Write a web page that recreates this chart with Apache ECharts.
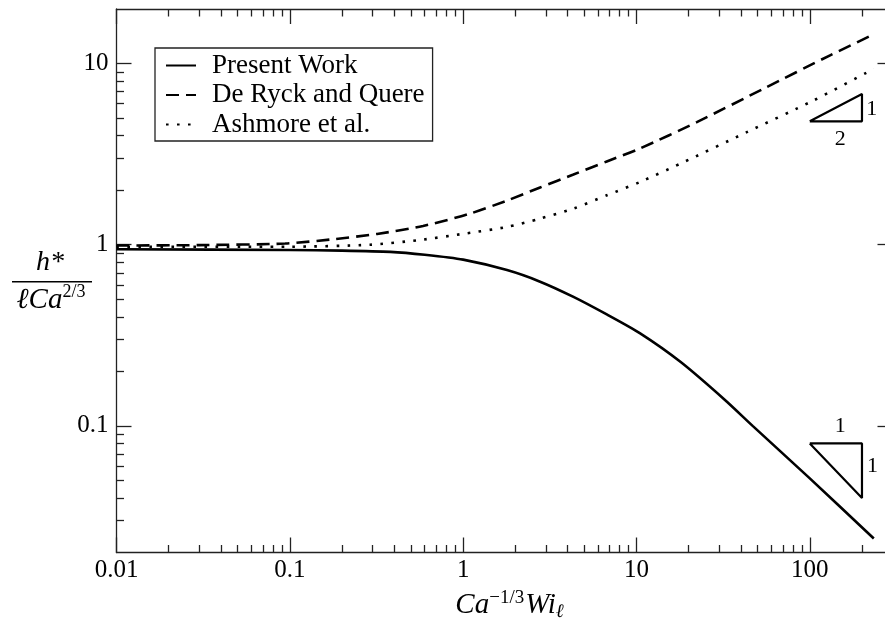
<!DOCTYPE html>
<html><head><meta charset="utf-8">
<script src="https://cdn.jsdelivr.net/npm/echarts@6/dist/echarts.min.js"></script>
<style>html,body{margin:0;padding:0;background:#fff}#c{width:885px;height:625px}</style>
</head><body><div id="c"></div>
<script>
// ---- data ----
const presentX = [0.01, 0.1, 0.2, 0.38, 0.6, 1.0, 1.79, 2.78, 4.33, 6.74, 10.5, 18, 32.4, 46.8, 100, 234];
const presentY = [0.944, 0.935, 0.928, 0.913, 0.88, 0.827, 0.724, 0.625, 0.515, 0.412, 0.324, 0.225, 0.139, 0.100, 0.0513, 0.0239];
const deRyckX = [0.01, 0.03, 0.094, 0.178, 0.319, 0.587, 1.066, 1.785, 2.78, 4.33, 6.74, 10.5, 22.3, 54.0, 130.9, 234];
const deRyckY = [0.99, 0.995, 1.015, 1.072, 1.147, 1.269, 1.472, 1.75, 2.07, 2.44, 2.88, 3.40, 4.75, 7.26, 11.1, 14.5];
const ashmoreX = [0.01, 0.1, 0.29, 0.55, 1.03, 1.785, 2.78, 4.33, 6.74, 10.5, 17.9, 43.3, 104.9, 234];
const ashmoreY = [0.975, 0.975, 1.0, 1.059, 1.153, 1.253, 1.394, 1.583, 1.874, 2.22, 2.80, 4.18, 6.25, 9.35];
const seriesNames = ['Present Work', 'De Ryck and Quere', 'Ashmore et al.'];
const slopeHalfTri = [[100, 4.8], [200, 6.79], [200, 4.8], [100, 4.8]];
const slopeOneTri = [[100, 0.08], [200, 0.08], [200, 0.04], [100, 0.08]];
const slopeLabels = [[228, 5.63, '1'], [150, 3.8, '2'], [150, 0.099, '1'], [230, 0.0597, '1']];
const xMajor = [0.01, 0.1, 1, 10, 100];
const xMinor = [0.02,0.03,0.04,0.05,0.06,0.07,0.08,0.09,0.2,0.3,0.4,0.5,0.6,0.7,0.8,0.9,2,3,4,5,6,7,8,9,20,30,40,50,60,70,80,90,200];
const yMajor = [0.1, 1, 10];
const yMinor = [0.03,0.04,0.05,0.06,0.07,0.08,0.09,0.2,0.3,0.4,0.5,0.6,0.7,0.8,0.9,2,3,4,5,6,7,8,9];
const xMin = 0.01, xMax = 300, yMin = 0.02, yMax = 20;

const FONT = 'Liberation Serif';
const AX = '#222';
const zip = (a, b) => a.map((v, i) => [v, b[i]]);

function xAxis(pos, ticks, len, showLabel, showLine) {
  return {
    type: 'log', logBase: 10, min: xMin, max: xMax, position: pos,
    axisLine: { show: showLine, lineStyle: { color: AX, width: 1.3 } },
    axisTick: { show: true, inside: true, length: len, customValues: ticks, lineStyle: { color: AX, width: 1.3 } },
    minorTick: { show: false }, splitLine: { show: false },
    axisLabel: { show: showLabel, customValues: ticks, formatter: v => String(+v.toPrecision(6)),
      color: '#000', fontFamily: FONT, fontSize: 25, margin: 5 },
    name: showLabel ? '{it|Ca}{sup|\u22121/3}{it|Wi}{sub|\u2113}' : '',
    nameLocation: 'middle', nameGap: 36,
    nameTextStyle: { color: '#000', fontFamily: FONT, padding: [0, 0, 0, 10], rich: {
      it: { fontSize: 29, fontStyle: 'italic', fontFamily: FONT, color: '#000' },
      sup: { fontSize: 19, fontFamily: FONT, color: '#000', padding: [0, 1, 15, 0] },
      sub: { fontSize: 19, fontStyle: 'italic', fontFamily: FONT, color: '#000', padding: [13, 0, 0, 0] }
    } }
  };
}
function yAxis(pos, ticks, len, showLabel, showLine) {
  return {
    type: 'log', logBase: 10, min: yMin, max: yMax, position: pos,
    axisLine: { show: showLine, lineStyle: { color: AX, width: 1.3 } },
    axisTick: { show: true, inside: true, length: len, customValues: ticks, lineStyle: { color: AX, width: 1.3 } },
    minorTick: { show: false }, splitLine: { show: false },
    axisLabel: { show: showLabel, customValues: ticks, formatter: v => String(+v.toPrecision(6)),
      color: '#000', fontFamily: FONT, fontSize: 25, margin: 8 }
  };
}

const chart = echarts.init(document.getElementById('c'), null, { renderer: 'canvas' });
chart.setOption({
  animation: false,
  backgroundColor: '#fff',
  grid: { left: 116.5, width: 776, top: 9, bottom: 72.5, containLabel: false, outerBoundsMode: 'none' },
  xAxis: [
    xAxis('bottom', xMajor, 15, true, true),
    xAxis('bottom', xMinor, 7.5, false, false),
    xAxis('top', xMajor, 15, false, true),
    xAxis('top', xMinor, 7.5, false, false)
  ],
  yAxis: [
    yAxis('left', yMajor, 15, true, true),
    yAxis('left', yMinor, 7.5, false, false),
    yAxis('right', yMajor, 15, false, true),
    yAxis('right', yMinor, 7.5, false, false)
  ],
  legend: {
    data: seriesNames, orient: 'vertical', left: 155, top: 48,
    padding: [4, 8, 3, 10], itemGap: 2.5, itemWidth: 30, itemHeight: 14,
    borderColor: '#222', borderWidth: 1.3, borderRadius: 0,
    itemStyle: { opacity: 0 },
    textStyle: { color: '#000', fontFamily: FONT, fontSize: 27, lineHeight: 27, padding: [0, 0, 0, 11] }
  },
  graphic: [
    { type: 'text', style: { text: 'h*', x: 50, y: 263, align: 'center', verticalAlign: 'middle',
        font: 'italic 28px "Liberation Serif"', fill: '#000' } },
    { type: 'line', shape: { x1: 12, y1: 281.7, x2: 92, y2: 281.7 }, style: { stroke: '#000', lineWidth: 1.5 } },
    { type: 'text', style: { text: '{a|\u2113Ca}{b|2/3}', x: 51, y: 300, align: 'center', verticalAlign: 'middle',
        rich: { a: { fontSize: 29, fontStyle: 'italic', fontFamily: FONT, fill: '#000' },
                b: { fontSize: 18, fontFamily: FONT, fill: '#000', padding: [0, 0, 15, 0] } } } }
  ],
  series: [
    { name: seriesNames[0], type: 'line', data: zip(presentX, presentY), showSymbol: false, symbol: 'none',
      smooth: 0.25, lineStyle: { color: '#000', width: 2.6 }, itemStyle: { color: '#000' } },
    { name: seriesNames[1], type: 'line', data: zip(deRyckX, deRyckY), showSymbol: false, symbol: 'none',
      smooth: 0.25, lineStyle: { color: '#000', width: 2.6, type: [13, 7] }, itemStyle: { color: '#000' } },
    { name: seriesNames[2], type: 'line', data: zip(ashmoreX, ashmoreY), showSymbol: false, symbol: 'none',
      smooth: 0.25, lineStyle: { color: '#000', width: 2.6, type: [2.6, 8.4] }, itemStyle: { color: '#000' } },
    { name: 'tri1', type: 'line', data: slopeHalfTri, symbol: 'none', lineStyle: { color: '#000', width: 2.2 }, silent: true },
    { name: 'tri2', type: 'line', data: slopeOneTri, symbol: 'none', lineStyle: { color: '#000', width: 2.2 }, silent: true },
    { name: 'slopeText', type: 'scatter', data: slopeLabels, symbolSize: 0, silent: true,
      itemStyle: { opacity: 1, color: '#000' },
      label: { show: true, position: 'inside', formatter: p => p.value[2], color: '#000', opacity: 1, fontFamily: FONT, fontSize: 22 } }
  ]
});
</script></body></html>
